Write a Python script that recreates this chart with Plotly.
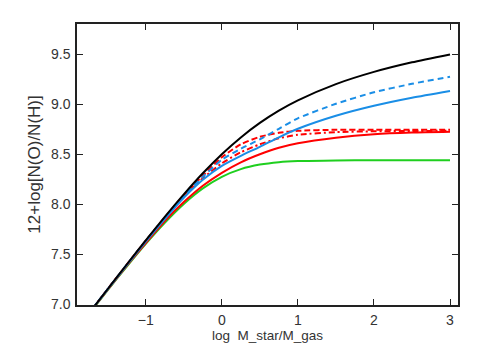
import plotly.graph_objects as go

# log M_star/M_gas grid
x = [-1.70, -1.5, -1.25, -1.0, -0.75, -0.5, -0.25, 0.0, 0.25, 0.5, 0.75, 1.0, 1.5, 2.0, 2.5, 3.0]

# 12+log[N(O)/N(H)]
black = [6.956, 7.153, 7.398, 7.639, 7.874, 8.099, 8.310, 8.501, 8.669, 8.814, 8.937, 9.040, 9.202, 9.324, 9.420, 9.499]
blue_dash = [6.956, 7.152, 7.396, 7.635, 7.866, 8.085, 8.275, 8.445, 8.555, 8.650, 8.755, 8.860, 9.005, 9.120, 9.205, 9.275]
blue_solid = [6.955, 7.151, 7.392, 7.628, 7.853, 8.065, 8.245, 8.385, 8.485, 8.575, 8.670, 8.755, 8.885, 8.985, 9.065, 9.133]
red_dash = [6.956, 7.152, 7.397, 7.636, 7.868, 8.090, 8.285, 8.470, 8.600, 8.675, 8.715, 8.735, 8.745, 8.745, 8.745, 8.745]
red_dashdot = [6.956, 7.152, 7.395, 7.632, 7.860, 8.078, 8.260, 8.410, 8.520, 8.600, 8.660, 8.695, 8.722, 8.730, 8.733, 8.735]
red_solid = [6.953, 7.146, 7.385, 7.612, 7.832, 8.022, 8.185, 8.315, 8.420, 8.500, 8.565, 8.610, 8.665, 8.700, 8.717, 8.725]
green = [6.948, 7.142, 7.378, 7.605, 7.816, 8.004, 8.159, 8.275, 8.352, 8.397, 8.421, 8.432, 8.439, 8.440, 8.440, 8.440]

series = [
    (black, "#000000", "solid"),
    (blue_dash, "#1a8ee6", "6px,4px"),
    (blue_solid, "#1a8ee6", "solid"),
    (red_dash, "#ff0000", "6px,3px"),
    (red_dashdot, "#ff0000", "6px,3px,2px,3px"),
    (red_solid, "#ff0000", "solid"),
    (green, "#1fcf1f", "solid"),
]

fig = go.Figure()
for yv, col, dash in series[::-1]:
    fig.add_trace(go.Scatter(
        x=x, y=yv, mode="lines",
        line=dict(color=col, width=2, dash=dash, shape="spline", smoothing=0.6),
        showlegend=False
    ))

axis_style = dict(
    showline=True, linecolor="#222", linewidth=1.5, mirror="allticks",
    ticks="inside", ticklen=6, tickcolor="#222", tickwidth=1.2,
    showgrid=False, zeroline=False, automargin=False,
    tickfont=dict(family="Liberation Sans", size=14, color="#333"),
)

# page body has an 8px margin, so the figure is shrunk to fit the window
fig.update_layout(
    width=465, height=338,
    margin=dict(l=69, r=15, t=16, b=41),
    paper_bgcolor="white", plot_bgcolor="white",
    font=dict(family="Liberation Sans", size=14, color="#333"),
    xaxis=dict(range=[-1.904, 3.105], tickvals=[-1, 0, 1, 2, 3],
               ticktext=["\u22121", "0", "1", "2", "3"], ticklabelstandoff=1,
               title=dict(text="log  M_star/M_gas", standoff=4,
                          font=dict(size=13.5)), **axis_style),
    yaxis=dict(range=[6.993, 9.803], tickvals=[7.0, 7.5, 8.0, 8.5, 9.0, 9.5],
               tickformat=".1f", ticklabelstandoff=2,
               title=dict(text="12+log[N(O)/N(H)]", standoff=6), **axis_style),
)

fig.write_html("out.html")
